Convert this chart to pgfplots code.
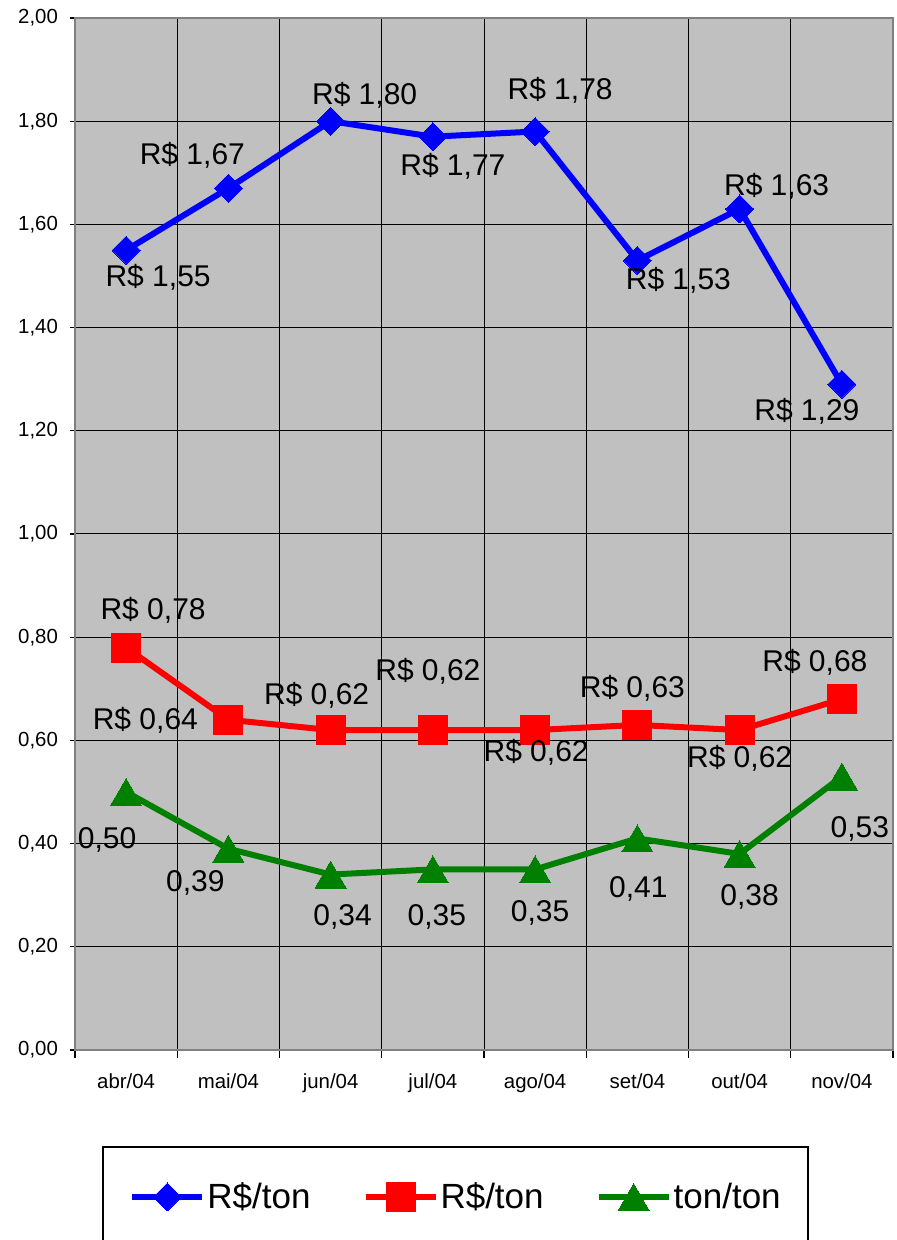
\documentclass[border=0pt]{standalone}
\usepackage{fontspec}
\setmainfont{Liberation Sans}
\usepackage{pgfplots}
\pgfplotsset{compat=1.18}
\usepackage{pgfplotstable}

\definecolor{plotbg}{RGB}{192,192,192}
\definecolor{framegray}{RGB}{128,128,128}
\definecolor{serA}{RGB}{0,0,255}
\definecolor{serB}{RGB}{255,0,0}
\definecolor{serC}{RGB}{0,128,0}

\newcommand\tickfont{\fontsize{10.2}{12}\selectfont}
\newcommand\labelfont{\fontsize{15}{18}\selectfont}
\newcommand\legendfont{\fontsize{17.5}{21}\selectfont}

% x = month index, y = value, dx/dy = label offset (pt)
\pgfplotstableread{
x y dx dy
0 1.55 16 -13.5
1 1.67 -18 16.5
2 1.80 17 13
3 1.77 10 -15
4 1.78 12.5 20.5
5 1.53 20.5 -10
6 1.63 18.5 11.5
7 1.29 -17.5 -13.5
}\precoA

\pgfplotstableread{
x y dx dy
0 0.78 13.5 18.5
1 0.64 -41.5 -0.5
2 0.62 -7 17.5
3 0.62 -2.5 29.5
4 0.62 0.5 -11
5 0.63 -2.5 18.5
6 0.62 0 -14
7 0.68 -13.5 18.5
}\precoB

\pgfplotstableread{
x y dx dy
0 0.50 -9.5 -21.5
1 0.39 -16.5 -15
2 0.34 6 -19
3 0.35 2 -21.5
4 0.35 2.5 -19.5
5 0.41 0.5 -23
6 0.38 5 -19.5
7 0.53 9 -24
}\razao

\pgfplotsset{
  serieA/.style={serA, line width=3pt, line join=round, mark=square*,
    mark size=4.95pt, mark options={rotate=45, solid, fill=serA, draw=serA, line width=0pt}},
  serieB/.style={serB, line width=3pt, line join=round, mark=square*,
    mark size=7.25pt, mark options={solid, fill=serB, draw=serB, line width=0pt}},
  serieC/.style={serC, line width=3pt, line join=round, mark=triangle*,
    mark size=9pt, mark options={solid, fill=serC, draw=serC, line width=0pt, yshift=-2.25pt}},
  rotulos/.style={
    visualization depends on={\thisrow{dx}\as\ldx},
    visualization depends on={\thisrow{dy}\as\ldy},
    every node near coord/.append style={xshift=\ldx pt, yshift=\ldy pt}},
}

\begin{document}
\begin{tikzpicture}
\useasboundingbox (0,0) rectangle (448.5pt,620pt);
\begin{axis}[
  at={(37.5pt,95pt)}, anchor=south west,
  scale only axis, width=409pt, height=516pt,
  xmin=-0.5, xmax=7.5, ymin=0, ymax=2,
  axis background/.style={fill=plotbg},
  axis line style={draw=framegray, line width=1pt},
  tick pos=left, tick align=outside,
  xtick={0,1,2,3,4,5,6,7},
  xticklabels={abr/04,mai/04,jun/04,jul/04,ago/04,set/04,out/04,nov/04},
  minor xtick={-0.5,0.5,1.5,2.5,3.5,4.5,5.5,6.5,7.5},
  major x tick style={draw=none},
  minor x tick style={black, line width=0.6pt},
  minor tick length=4pt,
  ytick={0,0.2,0.4,0.6,0.8,1.0,1.2,1.4,1.6,1.8,2.0},
  y tick style={black, line width=0.6pt},
  major tick length=2.5pt,
  xminorgrids=true, xmajorgrids=false, ymajorgrids=true,
  grid style={black, line width=0.5pt},
  minor grid style={black, line width=0.5pt},
  ticklabel style={font=\tickfont},
  xticklabel style={yshift=-6pt},
  yticklabel style={xshift=-2.5pt},
  /pgf/number format/.cd, fixed, fixed zerofill, precision=2, use comma, assume math mode=true,
  /pgfplots/.cd,
  every node near coord/.append style={anchor=center, black, font=\labelfont, inner sep=0pt},
  legend columns=3,
  legend style={draw=none, fill=none, at={(0.0587,-0.1424)}, anchor=west,
    font=\legendfont, nodes={inner xsep=1pt},
    /tikz/every even column/.append style={column sep=25pt}},
  legend image code/.code={\draw[mark repeat=2, mark phase=2, #1]
    plot coordinates {(0pt,0pt) (17.5pt,0pt) (35pt,0pt)};},
]
\addplot[serieA, rotulos, forget plot,
  nodes near coords={R\$ \pgfmathprintnumber{\pgfplotspointmeta}},
] table[x=x, y=y] {\precoA};

\addplot[serieB, rotulos, forget plot,
  nodes near coords={R\$ \pgfmathprintnumber{\pgfplotspointmeta}},
] table[x=x, y=y] {\precoB};

\addplot[serieC, rotulos, forget plot,
  nodes near coords={\pgfmathprintnumber{\pgfplotspointmeta}},
] table[x=x, y=y] {\razao};

\addlegendimage{serieA}
\addlegendentry{R\$/ton}
\addlegendimage{serieB}
\addlegendentry{R\$/ton}
\addlegendimage{serieC}
\addlegendentry{ton/ton}
\end{axis}
% legend frame
\draw[black, line width=0.6pt] (51.5pt,-5pt) rectangle (404pt,46.5pt);
\end{tikzpicture}
\end{document}
